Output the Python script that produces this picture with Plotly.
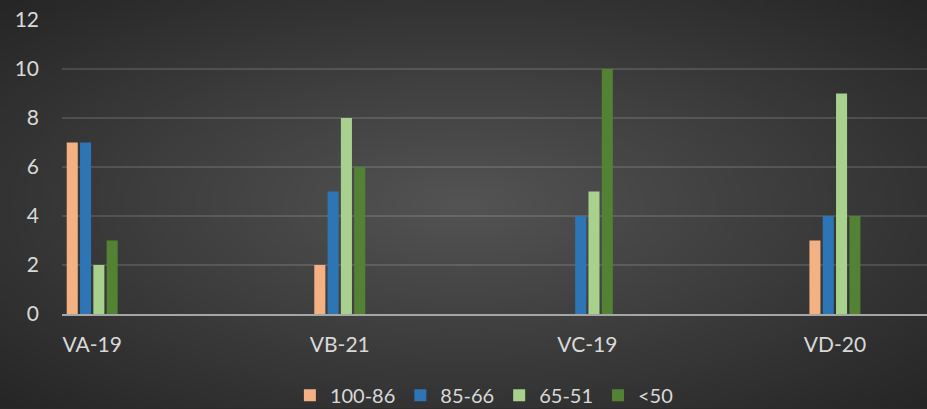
import base64
import struct
import zlib

import numpy as np
import plotly.graph_objects as go

categories = ['VA-19', 'VB-21', 'VC-19', 'VD-20']
series_names = ['100-86', '85-66', '65-51', '<50']
values_100_86 = [7, 2, 0, 3]
values_85_66 = [7, 5, 4, 4]
values_65_51 = [2, 8, 5, 9]
values_lt50 = [3, 6, 10, 4]

colors = ['#F4B183', '#2E75B6', '#A9D18E', '#548235']

W, H = 927, 409
ML, MR, MT, MB = 62, 0, 20, 94.5


def gradient_png(w, h, inner=0x54, outer=0x26):
    # 径向渐变背景，中间亮四周暗
    yy, xx = np.mgrid[0:h, 0:w]
    cx, cy = (w - 1) / 2, (h - 1) / 2
    d = np.sqrt(((xx - cx) / cx) ** 2 + ((yy - cy) / cy) ** 2) / np.sqrt(2)
    v = (inner - (inner - outer) * d).clip(0, 255).astype(np.uint8)
    rgb = np.stack([v, v, v], axis=-1)
    raw = b''.join(b'\x00' + rgb[r].tobytes() for r in range(h))

    def chunk(tag, data):
        c = struct.pack('>I', len(data)) + tag + data
        return c + struct.pack('>I', zlib.crc32(tag + data) & 0xffffffff)

    png = b'\x89PNG\r\n\x1a\n'
    png += chunk(b'IHDR', struct.pack('>IIBBBBB', w, h, 8, 2, 0, 0, 0))
    png += chunk(b'IDAT', zlib.compress(raw, 9))
    png += chunk(b'IEND', b'')
    return 'data:image/png;base64,' + base64.b64encode(png).decode()


fig = go.Figure()

for name, vals, color in zip(series_names,
                             [values_100_86, values_85_66, values_65_51, values_lt50],
                             colors):
    fig.add_trace(go.Bar(
        x=categories,
        y=vals,
        name=name,
        marker=dict(color=color, line=dict(width=0))
    ))

plot_w = W - ML - MR
plot_h = H - MT - MB

fig.add_layout_image(dict(
    source=gradient_png(232, 102),
    xref='paper', yref='paper',
    x=-ML / plot_w, y=1 + MT / plot_h,
    sizex=W / plot_w, sizey=H / plot_h,
    xanchor='left', yanchor='top',
    sizing='stretch', layer='below'
))

fig.update_layout(
    width=W,
    height=H,
    margin=dict(l=ML, r=MR, t=MT, b=MB, autoexpand=False),
    paper_bgcolor='#2a2a2a',
    plot_bgcolor='rgba(0,0,0,0)',
    barmode='group',
    bargap=0.785,
    bargroupgap=0.17,
    font=dict(family='Lato, Liberation Sans, sans-serif', size=21, color='#D9D9D9'),
    showlegend=True,
    legend=dict(
        orientation='h',
        xref='container', yref='paper',
        x=0.522, xanchor='center',
        y=-(396 - (H - MB)) / plot_h, yanchor='middle',
        font=dict(size=20, color='#D9D9D9'),
        bgcolor='rgba(0,0,0,0)',
        traceorder='normal'
    )
)

fig.update_xaxes(
    range=[-0.122, 3.372],
    showgrid=False,
    showline=True,
    linecolor='#A6A6A6',
    linewidth=2,
    ticks='',
    ticklabelstandoff=11,
    zeroline=False
)

fig.update_yaxes(
    range=[0, 12],
    dtick=2,
    showgrid=True,
    gridcolor='rgba(255,255,255,0.13)',
    gridwidth=1.5,
    zeroline=False,
    showline=False,
    ticks='',
    ticklabelstandoff=22
)

fig.write_html('out.html', config={'displayModeBar': False},
               post_script="document.body.style.margin='0';document.body.style.overflow='hidden';")
